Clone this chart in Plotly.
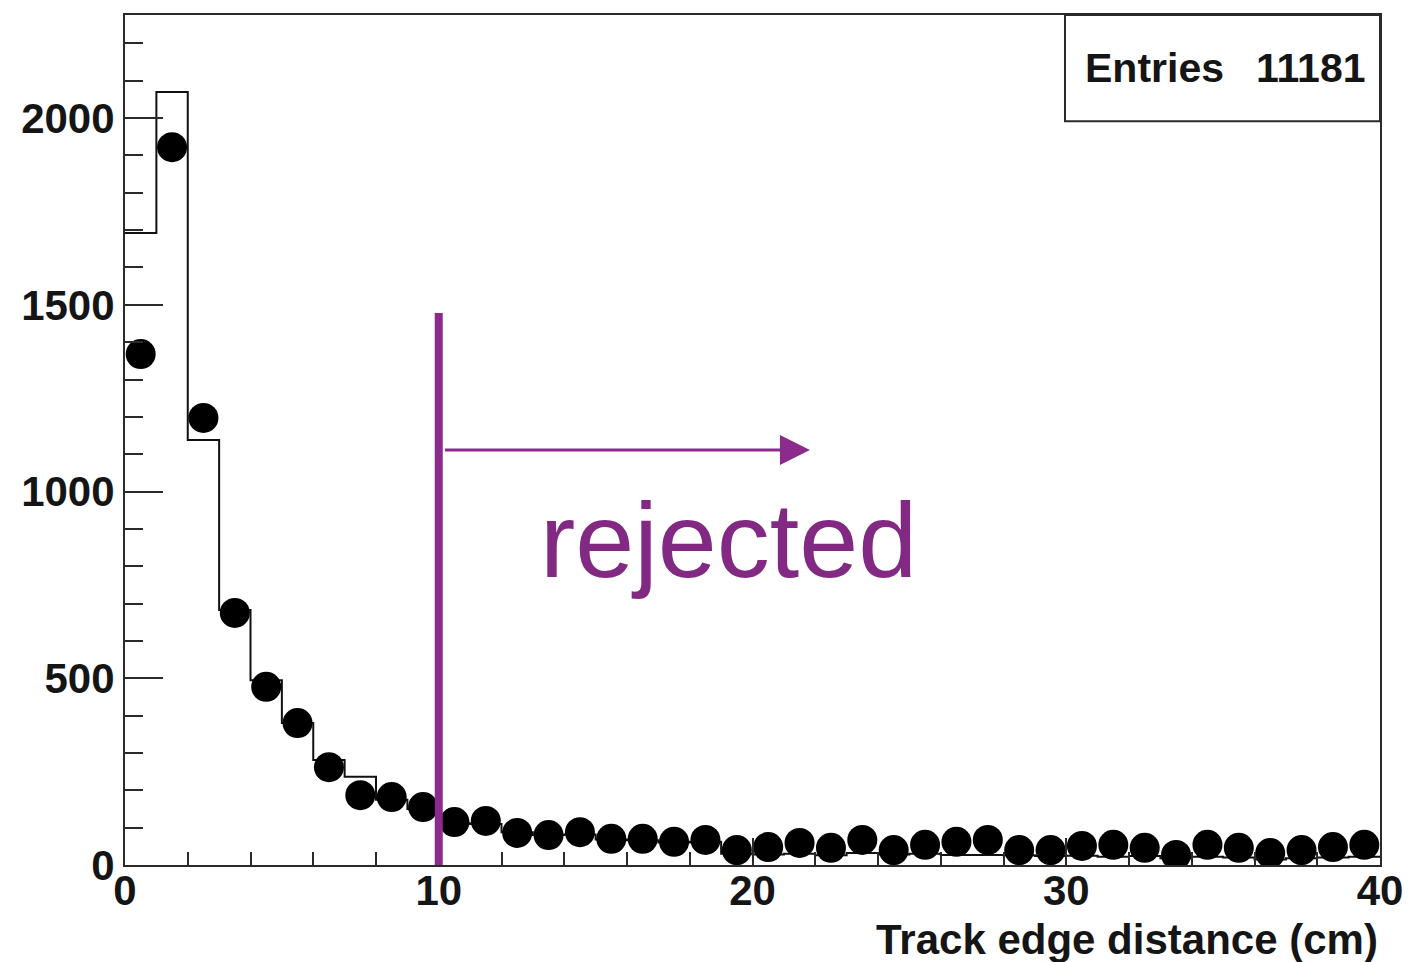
import plotly.graph_objects as go

# ---- data ----
bin_edges = list(range(0, 41))
bin_centers = [i + 0.5 for i in range(40)]

data_counts = [1368, 1922, 1197, 675, 477, 380, 262, 187, 182, 155,
               115, 118, 86, 80, 88, 70, 70, 62, 67, 40,
               48, 59, 46, 67, 40, 54, 62, 67, 40, 40,
               51, 54, 46, 27, 54, 46, 32, 40, 48, 54]

hist_counts = [1692, 2070, 1138, 683, 495, 380, 281, 236, 175, 150,
               112, 110, 88, 80, 82, 68, 66, 60, 62, 30,
               28, 30, 26, 32, 28, 30, 27, 27, 26, 24,
               25, 22, 24, 18, 22, 20, 15, 18, 20, 22]

entries_label = "Entries"
entries_value = "11181"
x_title = "Track edge distance (cm)"
cut_value = 10
cut_top = 1478
arrow_y = 1111
arrow_end = 21.83
rejected_text = "rejected"
rejected_pos = (19.25, 870)

x_range = [0, 40]
y_range = [0, 2276]

FONT = "Liberation Sans, Arial, Helvetica, sans-serif"
PURPLE = "#8B2B8E"
TEXT_PURPLE = "#822A83"
FRAME = "#2a2a2a"
INK = "#151515"

fig = go.Figure()

# histogram (step line)
fig.add_trace(go.Scatter(
    x=bin_edges,
    y=hist_counts + [hist_counts[-1]],
    mode="lines",
    line=dict(shape="hv", color="#111111", width=2),
    hoverinfo="skip",
    showlegend=False,
))

# data points
fig.add_trace(go.Scatter(
    x=bin_centers,
    y=data_counts,
    mode="markers",
    marker=dict(symbol="circle", size=30, color="black", line=dict(width=0)),
    showlegend=False,
))

# cut line
fig.add_shape(type="line", xref="x", yref="y",
              x0=cut_value, x1=cut_value, y0=0, y1=cut_top,
              line=dict(color=PURPLE, width=8))

# arrow
fig.add_annotation(
    x=arrow_end, y=arrow_y, xref="x", yref="y",
    ax=cut_value + 0.15, ay=arrow_y, axref="x", ayref="y",
    text="", showarrow=True,
    arrowhead=2, arrowsize=2, arrowwidth=3, arrowcolor=PURPLE,
)

# rejected text
fig.add_annotation(
    x=rejected_pos[0], y=rejected_pos[1], xref="x", yref="y",
    text=rejected_text, showarrow=False,
    font=dict(family=FONT, size=106, color=TEXT_PURPLE),
    xanchor="center", yanchor="middle",
)

# stats box
fig.add_shape(type="rect", xref="paper", yref="paper",
              x0=0.749, x1=1.0, y0=0.875, y1=1.0,
              line=dict(color=FRAME, width=2), fillcolor="white", layer="above")
fig.add_annotation(
    x=0.7635, y=0.9375, xref="paper", yref="paper",
    text=entries_label, showarrow=False,
    font=dict(family=FONT, size=41, color=INK, weight="bold"),
    xanchor="left", yanchor="middle",
)
fig.add_annotation(
    x=0.9904, y=0.9375, xref="paper", yref="paper",
    text=entries_value, showarrow=False,
    font=dict(family=FONT, size=41, color=INK, weight="bold"),
    xanchor="right", yanchor="middle",
)

# x axis title, right aligned
fig.add_annotation(
    x=1.0, y=-0.088, xref="paper", yref="paper",
    text=x_title, showarrow=False,
    font=dict(family=FONT, size=42, color=INK, weight="bold"),
    xanchor="right", yanchor="middle",
)

fig.update_layout(
    width=1424, height=962,
    margin=dict(l=125, r=44, t=15, b=97),
    paper_bgcolor="white", plot_bgcolor="white",
    font=dict(family=FONT, color=INK),
    showlegend=False,
)

fig.update_xaxes(
    range=x_range, dtick=10, tick0=0,
    ticks="inside", ticklen=27, tickwidth=2, tickcolor=FRAME,
    minor=dict(dtick=2, ticks="inside", ticklen=13, tickwidth=2, tickcolor=FRAME),
    showgrid=False, zeroline=False,
    showline=True, linecolor=FRAME, linewidth=2, mirror=True,
    tickfont=dict(family=FONT, size=42, color=INK, weight="bold"),
    ticklabelstandoff=-12,
)
fig.update_yaxes(
    range=y_range, dtick=500, tick0=0,
    ticks="inside", ticklen=38, tickwidth=2, tickcolor=FRAME,
    minor=dict(dtick=100, ticks="inside", ticklen=18, tickwidth=2, tickcolor=FRAME),
    showgrid=False, zeroline=False,
    showline=True, linecolor=FRAME, linewidth=2, mirror=True,
    tickfont=dict(family=FONT, size=42, color=INK, weight="bold"),
    ticklabelstandoff=0,
)

fig.write_html("out.html")
